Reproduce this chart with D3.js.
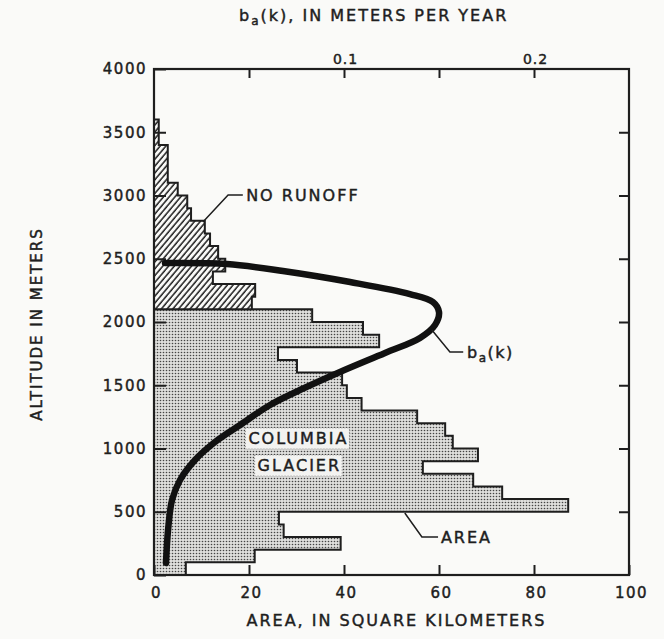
<!DOCTYPE html>
<html><head><meta charset="utf-8">
<script src="https://cdn.jsdelivr.net/npm/d3@7/dist/d3.min.js"></script>
<style>
body{margin:0;background:#fafaf8;}
svg{display:block;}
text{font-family:"DejaVu Sans",sans-serif;fill:#1e1e1e;stroke:#1e1e1e;stroke-width:0.45px;}
</style>
</head><body>
<svg id="chart" width="664" height="639"></svg>
<script>
// ---- data ----
const binBottom = [0,100,200,300,400,500,600,700,800,900,1000,1100,1200,1300,1400,1500,1600,1700,1800,1900,2000,2100,2200,2300,2400,2500,2600,2700,2800,2900,3000,3100,3200,3300,3400,3500];
const binHeight = 100;
const areaKm2 = [6.7,21.2,39.3,27.3,26.3,87.2,73.3,67.2,56.6,68.2,62.9,61.3,55.4,43.7,40.6,39.6,30.1,26.1,47.4,44.0,33.3,20.6,21.3,12.4,15.0,13.5,11.8,10.7,7.8,7.0,5.0,2.9,2.9,2.9,1.0,1.0];
const noRunoffAltitude = 2100;

const baAltitude = [95,356,593,751,909,1051,1186,1344,1462,1605,1755,1874,1976,2079,2158,2221,2316,2403,2458,2466];
const baValue = [0.0063,0.0074,0.0095,0.0137,0.0216,0.0321,0.0453,0.0611,0.0768,0.0979,0.1216,0.1400,0.1479,0.1500,0.1468,0.1347,0.1032,0.0679,0.0384,0.0058];

const altitudeTicks = [0,500,1000,1500,2000,2500,3000,3500,4000];
const rightTicks = [500,1000,1500,2000,2500,3000,3500];
const areaTicks = [0,20,40,60,80,100];
const baTicks = [0.05,0.1,0.15,0.2];
const baLabelled = [0.1,0.2];

// ---- layout ----
const svg = d3.select("#chart");
const L = 154, R = 629, T = 69, B = 575;
const x = d3.scaleLinear().domain([0,100]).range([L,R]);
const xb = d3.scaleLinear().domain([0,0.25]).range([L,R]);
const y = d3.scaleLinear().domain([0,4000]).range([B,T]);
const ink = "#1e1e1e";

const defs = svg.append("defs");
const stip = defs.append("pattern").attr("id","stipple").attr("patternUnits","userSpaceOnUse")
  .attr("width",3).attr("height",3);
stip.append("rect").attr("width",3).attr("height",3).attr("fill","#dededc");
stip.append("circle").attr("cx",1.5).attr("cy",1.5).attr("r",0.8).attr("fill","#444");
const hatch = defs.append("pattern").attr("id","hatch").attr("patternUnits","userSpaceOnUse")
  .attr("width",4.4).attr("height",10).attr("patternTransform","rotate(40)");
hatch.append("rect").attr("width",4.4).attr("height",10).attr("fill","#fafaf8");
hatch.append("line").attr("x1",1).attr("x2",1).attr("y1",0).attr("y2",10)
  .attr("stroke",ink).attr("stroke-width",1.5);

// ---- histogram ----
const bins = binBottom.map((b,i)=>({lo:b, hi:b+binHeight, v:areaKm2[i]}));
function stepPoly(sel){
  const pts = [[0, sel[0].lo]];
  sel.forEach(d=>{ pts.push([d.v,d.lo]); pts.push([d.v,d.hi]); });
  pts.push([0, sel[sel.length-1].hi]);
  return pts;
}
const line = d3.line().x(d=>x(d[0])).y(d=>y(d[1]));
const lower = bins.filter(d=>d.lo < noRunoffAltitude);
const upper = bins.filter(d=>d.lo >= noRunoffAltitude);
svg.append("path").attr("d", line(stepPoly(lower))+"Z").attr("fill","url(#stipple)")
  .attr("stroke",ink).attr("stroke-width",2).attr("stroke-linejoin","miter");
svg.append("path").attr("d", line(stepPoly(upper))+"Z").attr("fill","url(#hatch)")
  .attr("stroke",ink).attr("stroke-width",2).attr("stroke-linejoin","miter");

// ---- axes ----
const gl = svg.append("g").attr("transform",`translate(${L},0)`)
  .call(d3.axisLeft(y).tickValues(altitudeTicks).tickSize(-12).tickPadding(8).tickFormat(d3.format("d")));
const gb = svg.append("g").attr("transform",`translate(0,${B})`)
  .call(d3.axisBottom(x).tickValues(areaTicks).tickSize(-10).tickPadding(12).tickFormat(d3.format("d")));
const gt = svg.append("g").attr("transform",`translate(0,${T})`)
  .call(d3.axisTop(xb).tickValues(baTicks).tickSize(-9).tickPadding(5)
    .tickFormat(d=> baLabelled.includes(d) ? d3.format(".1f")(d) : ""));
const gr = svg.append("g").attr("transform",`translate(${R},0)`)
  .call(d3.axisRight(y).tickValues(rightTicks).tickSize(-10).tickFormat(""));
[gl,gb,gt,gr].forEach(g=>{
  g.attr("font-family",null).attr("font-size",null);
  g.select(".domain").remove();
  g.selectAll("line").attr("stroke",ink).attr("stroke-width",2);
  g.selectAll("text").attr("fill",ink).style("font-size","15px").style("letter-spacing","1.5px");
});
gl.selectAll("text").attr("dx","1px");
gb.selectAll("text").attr("dx","2px");
gt.selectAll("text").style("font-size","14px").style("letter-spacing","1px").attr("dx","1px");

// ---- b_a(k) curve ----
const baPts = baAltitude.map((a,i)=>[baValue[i],a]);
svg.append("path")
  .attr("d", d3.line().x(d=>xb(d[0])).y(d=>y(d[1])).curve(d3.curveCatmullRom.alpha(0.5))(baPts))
  .attr("fill","none").attr("stroke","#111").attr("stroke-width",6.5)
  .attr("stroke-linecap","round").attr("stroke-linejoin","round");

// frame
svg.append("rect").attr("x",L).attr("y",T).attr("width",R-L).attr("height",B-T)
  .attr("fill","none").attr("stroke",ink).attr("stroke-width",2.2);

// ---- annotations ----
const lab = {fs:"16px", ls:"2px"};
function leader(pts){
  svg.append("path").attr("d", line(pts)).attr("fill","none").attr("stroke",ink).attr("stroke-width",1.5);
}
leader([[10.3,2790],[15.6,3004],[18.7,3004]]);
svg.append("text").attr("x",x(19.4)).attr("y",y(3004)).attr("dy","0.36em")
  .style("font-size",lab.fs).style("letter-spacing",lab.ls).text("NO RUNOFF");

leader([[58.5,1937],[62.3,1763],[65.1,1763]]);
const bt = svg.append("text").attr("x",x(65.9)).attr("y",y(1763)).attr("dy","0.36em")
  .style("font-size",lab.fs).style("letter-spacing","1.5px");
bt.append("tspan").text("b");
bt.append("tspan").attr("dy","4").style("font-size","12px").text("a");
bt.append("tspan").attr("dy","-4").text("(k)");

leader([[52.8,490],[56.4,300],[59.8,300]]);
svg.append("text").attr("x",x(60.4)).attr("y",y(300)).attr("dy","0.36em")
  .style("font-size",lab.fs).style("letter-spacing",lab.ls).text("AREA");

function boxed(txt, cx, alt){
  const g = svg.append("g");
  const t = g.append("text").attr("x",x(cx)).attr("y",y(alt)).attr("text-anchor","middle")
    .style("font-size",lab.fs).style("letter-spacing",lab.ls).text(txt);
  const bb = t.node().getBBox();
  g.insert("rect","text").attr("x",bb.x-3).attr("y",bb.y-1).attr("width",bb.width+4).attr("height",bb.height+2)
    .attr("fill","#f3f3f1").attr("stroke","#777").attr("stroke-width",0.8).attr("stroke-dasharray","1,2");
}
boxed("COLUMBIA", 30.4, 1036);
boxed("GLACIER", 30.6, 822);

// ---- titles ----
const tt = svg.append("text").attr("x",239).attr("y",21)
  .style("font-size","16px").style("letter-spacing","2px");
tt.append("tspan").text("b");
tt.append("tspan").attr("dy","4").style("font-size","12px").text("a");
tt.append("tspan").attr("dy","-4").text("(k), IN METERS PER YEAR");

svg.append("text").attr("x",(L+R)/2+5).attr("y",626).attr("text-anchor","middle")
  .style("font-size","16px").style("letter-spacing","2px").text("AREA, IN SQUARE KILOMETERS");

svg.append("text").attr("transform","translate(42,324) rotate(-90)").attr("text-anchor","middle")
  .style("font-size","15px").style("letter-spacing","2px").text("ALTITUDE  IN METERS");
</script>
</body></html>
